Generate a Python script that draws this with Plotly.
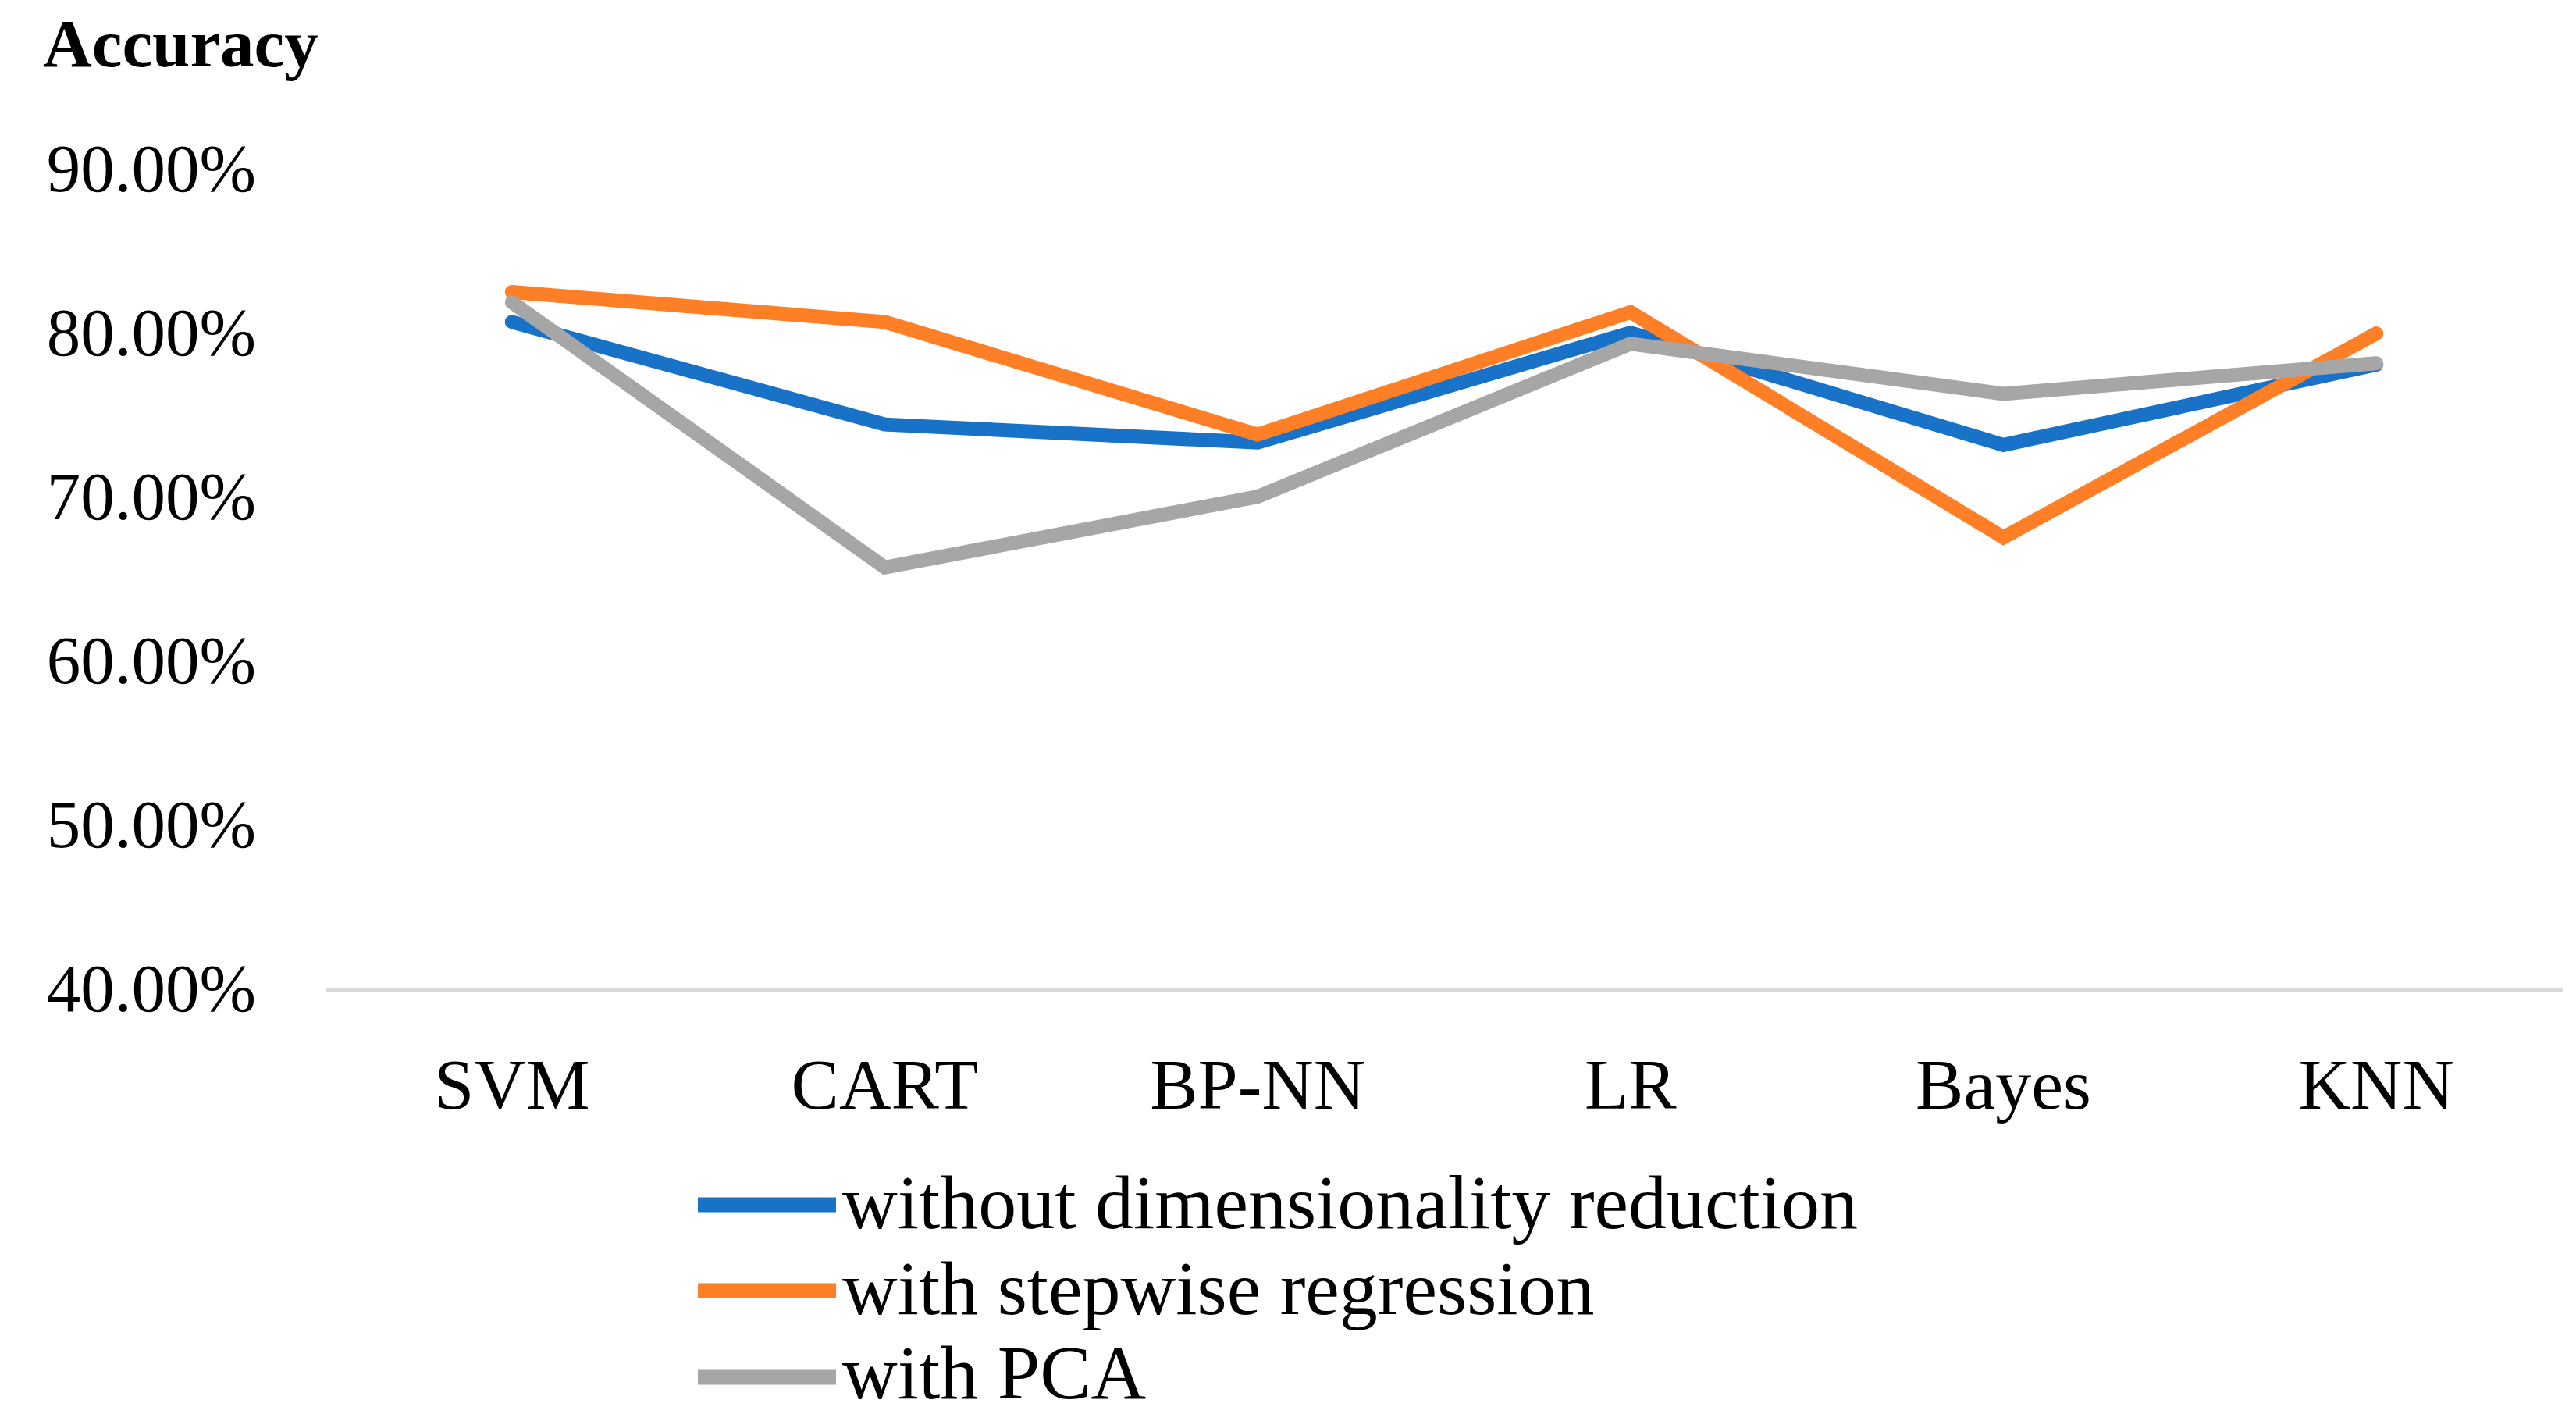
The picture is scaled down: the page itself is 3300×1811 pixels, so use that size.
import plotly.graph_objects as go

categories = ["SVM", "CART", "BP-NN", "LR", "Bayes", "KNN"]
without_dr = [0.8060, 0.7435, 0.7325, 0.7995, 0.7310, 0.7800]
stepwise = [0.8243, 0.8060, 0.7373, 0.8120, 0.6746, 0.7990]
pca = [0.8180, 0.6563, 0.6995, 0.7927, 0.7622, 0.7808]
series_names = ["without dimensionality reduction", "with stepwise regression", "with PCA"]
colors = ["#1873C8", "#FF7F27", "#A6A6A6"]
y_ticks = [0.4, 0.5, 0.6, 0.7, 0.8, 0.9]

W, H = 3300, 1811
L, R, T, B = 417, 17, 215, 546
pw = W - L - R
ph = H - T - B
FONT = "Liberation Serif"


def px_to_paper_y(ypx):
    return ((H - B) - ypx) / ph


def px_to_paper_x(xpx):
    return (xpx - L) / pw


fig = go.Figure()
for name, vals, col in zip(series_names, [without_dr, stepwise, pca], colors):
    fig.add_trace(go.Scatter(x=categories, y=vals, mode="lines", name=name,
                             line=dict(color=col, width=18), showlegend=False))

# custom legend (long line samples like the reference)
leg_line_px = [1543, 1653, 1764]
leg_text_px = [1540, 1650, 1758]
for name, col, ly, ty in zip(series_names, colors, leg_line_px, leg_text_px):
    fig.add_shape(type="line", xref="paper", yref="paper",
                  x0=px_to_paper_x(894), x1=px_to_paper_x(1071),
                  y0=px_to_paper_y(ly), y1=px_to_paper_y(ly),
                  line=dict(color=col, width=19))
    fig.add_annotation(xref="paper", yref="paper", x=px_to_paper_x(1078),
                       y=px_to_paper_y(ty), xanchor="left", yanchor="middle",
                       showarrow=False, borderpad=0,
                       text=name, font=dict(family=FONT, size=98, color="#000000"))

fig.add_annotation(xref="paper", yref="paper", x=px_to_paper_x(54), y=px_to_paper_y(6),
                   xanchor="left", yanchor="top", showarrow=False, borderpad=0,
                   text="<b>Accuracy</b>", font=dict(family=FONT, size=87, color="#000000"))

fig.update_layout(
    width=W, height=H,
    margin=dict(l=L, r=R, t=T, b=B, pad=0),
    paper_bgcolor="white", plot_bgcolor="white",
    font=dict(family=FONT, color="#000000"),
)
fig.update_xaxes(
    type="category", range=[-0.5, 5.5], showgrid=False, zeroline=False,
    showline=True, linecolor="#D9D9D9", linewidth=6,
    ticks="", tickfont=dict(family=FONT, size=92, color="#000000"),
    ticklabelstandoff=39,
)
fig.update_yaxes(
    range=[0.4, 0.9], tickvals=y_ticks, tickformat=".2%",
    showgrid=False, zeroline=False, showline=False, ticks="",
    tickfont=dict(family=FONT, size=87, color="#000000"),
    ticklabelstandoff=88,
)

fig.write_html("out.html", config={"displayModeBar": False}, post_script=(
    "document.body.style.margin='0';document.body.style.padding='0';"
    "document.querySelectorAll('.scatterlayer path.js-line').forEach("
    "function(p){p.style.strokeLinecap='round';p.style.strokeLinejoin='miter';});"))
